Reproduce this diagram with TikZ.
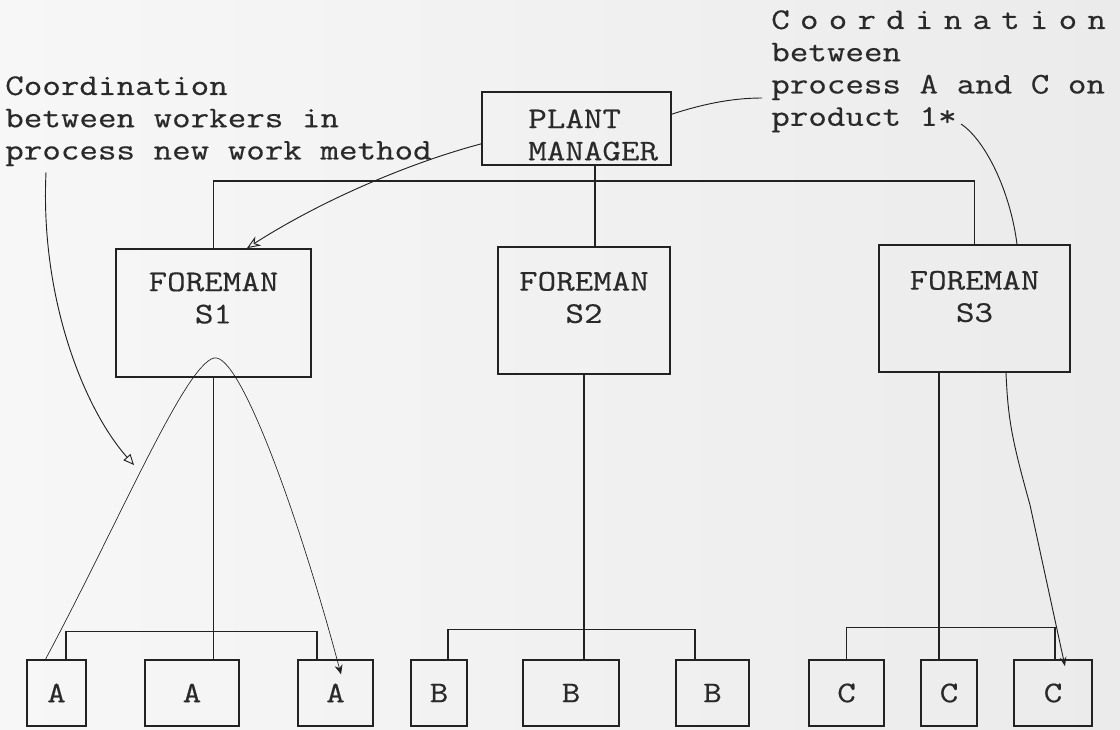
\documentclass[tikz,border=0pt]{standalone}
\usepackage{fontspec}
\newfontfamily\typewriter{lmmono12-regular.otf}[FakeStretch=1.2, FakeBold=0.4]
\usetikzlibrary{arrows.meta,calc}
\definecolor{inkcol}{HTML}{222222}
\definecolor{txtcol}{HTML}{2A2A2A}
\definecolor{paperl}{HTML}{F7F7F7}
\definecolor{paperr}{HTML}{EBEBEB}
\newdimen\pxu \pxu=0.75pt
\newcommand{\chartfont}{\typewriter\fontsize{22.5pt}{24.2pt}\selectfont}

\begin{document}
\begin{tikzpicture}[x=0.75pt, y=-0.75pt,
    unit/.style={draw=inkcol, line width=1.3pt, inner sep=0pt},
    worker/.style={draw=inkcol, line width=1.1pt, inner sep=0pt, font=\chartfont, text=txtcol, minimum height=66\pxu},
    caption/.style={inner sep=0pt, font=\chartfont, text=txtcol, align=left},
    link/.style={draw=inkcol, line width=1pt},
    coord/.style={draw=inkcol, line width=0.7pt}]
      % \draw[help lines, gray!50, very thin] (0,0) grid[step=50] (1120,729);
      \shade[left color=paperl, right color=paperr] (0,0) rectangle (1120,729);
      \useasboundingbox (0,0) rectangle (1120,729);

      % plant manager and foremen
      \node[unit, minimum width=189\pxu, minimum height=73\pxu] (pm) at (576.5,128.5) {};
      \node[caption, anchor=west] (pmname) at (528,135) {PLANT\\MANAGER};
      \node[unit, minimum width=195\pxu, minimum height=128\pxu] (s1) at (213.5,313) {};
      \node[unit, minimum width=172\pxu, minimum height=127\pxu] (s2) at (584,310.5) {};
      \node[unit, minimum width=191\pxu, minimum height=127\pxu] (s3) at (974.5,308.5) {};
      \node[caption, align=center] (s1name) at ($(s1)+(0,-15)$) {FOREMAN\\S1};
      \node[caption, align=center] (s2name) at ($(s2)+(0,-13)$) {FOREMAN\\S2};
      \node[caption, align=center] (s3name) at ($(s3)+(0,-12)$) {FOREMAN\\S3};

      % workers
      \foreach \n/\x/\w/\t in {a1/56.5/59/A, a2/192/94/A, a3/335.5/75/A,
          b1/439/56/B, b2/571/96/B, b3/712.5/73/B,
          c1/846.5/75/C, c2/949/56/C, c3/1053/78/C}
        \node[worker, minimum width=\w\pxu] (\n) at (\x,693) {\t};

      % lines of authority
      \coordinate (pmdrop) at ($(pm.south)+(18.5,0)$);
      \draw[link] (pmdrop) -- (pmdrop |- s2.north);
      \draw[link] (s1.north) |- ($(s3.north)+(0,-63)$) -- (s3.north);
      \draw[link] (s1.south) -- (s1.south |- a2.north);
      \draw[link] ($(a1.north)+(9.5,0)$) |- ($(a3.north)+(-18.5,-28)$) -- ($(a3.north)+(-18.5,0)$);
      \draw[link] (s2.south) -- (s2.south |- b2.north);
      \draw[link] ($(b1.north)+(9,0)$) |- ($(b3.north)+(-17.5,-30)$) -- ($(b3.north)+(-17.5,0)$);
      \coordinate (c2drop) at ($(c2.north)+(-10,0)$);
      \draw[link] (c2drop |- s3.south) -- (c2drop);
      \draw[link] (c1.north) |- ($(c3.north)+(2,-32)$) -- ($(c3.north)+(2,0)$);

      % notes
      \node[caption, anchor=north west] (leftnote) at (5,76) {Coordination\\between workers in\\process new work method};
      \node[caption, anchor=north west] (rightnote) at (771,10) {{\addfontfeature{LetterSpace=34}Coordination}\\between\\process A and C on\\product 1*};

      % coordination paths
      \draw[coord, -{Stealth[open, length=10pt, width=8pt]}] ($(pm.south west)+(0,-22)$) .. controls (420,160) and (330,195) .. ($(s1.north)+(33.5,0)$);
      \draw[coord] ($(pm.north east)+(0,23)$) .. controls (700,105) and (730,98) .. ($(rightnote.north west)+(-9,88)$);
      \draw[coord] ($(rightnote.north west)+(190,114)$) .. controls (985,140) and (1010,190) .. ($(s3.north)+(42.5,0)$);
      \draw[coord, -{Stealth[length=7pt, width=5pt]}] ($(s3.south)+(31.5,0)$) .. controls (1008,420) and (1012,440) .. (1030,505) -- ($(c3.north)+(12,7)$);
      \coordinate (trianglept) at (134,465);
      \draw[coord, -{Triangle[open, length=8pt, width=7pt]}] ($(leftnote.south west)+(41,6)$) .. controls (40,300) and (85,410) .. (trianglept);
      \draw[coord, line width=0.5pt, -{Stealth[length=7pt, width=6pt]}] ($(a1.north)+(-11,0)$) .. controls (120,520) and (185,365) .. (214,358) .. controls (240,352) and (300,520) .. ($(a3.north)+(5.5,15)$);
\end{tikzpicture}
\end{document}
